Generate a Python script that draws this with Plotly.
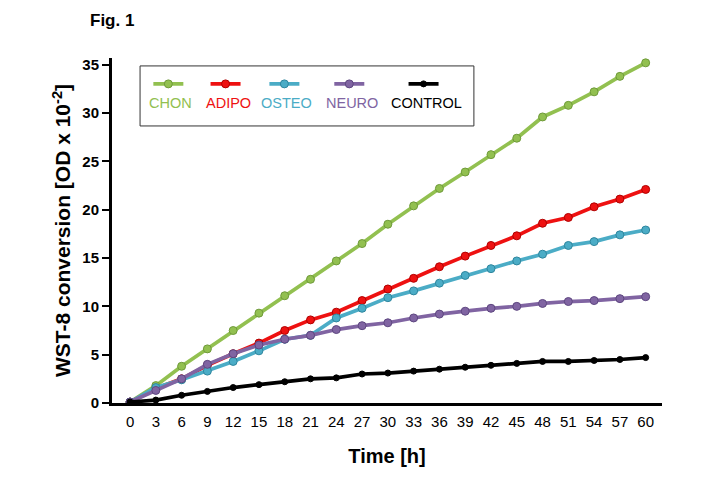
import plotly.graph_objects as go

# time points in hours
time_h = [0, 3, 6, 9, 12, 15, 18, 21, 24, 27, 30, 33, 36, 39, 42, 45, 48, 51, 54, 57, 60]

# WST-8 conversion [OD x 10^-2]
chon = [0.1, 1.8, 3.8, 5.6, 7.5, 9.3, 11.1, 12.8, 14.7, 16.5, 18.5, 20.4, 22.2, 23.9, 25.7,
        27.4, 29.6, 30.8, 32.2, 33.8, 35.2]
adipo = [0.1, 1.5, 2.5, 3.9, 5.1, 6.2, 7.5, 8.6, 9.4, 10.6, 11.8, 12.9, 14.1, 15.2, 16.3,
         17.3, 18.6, 19.2, 20.3, 21.1, 22.1]
osteo = [0.1, 1.6, 2.4, 3.3, 4.3, 5.4, 6.6, 7.0, 8.8, 9.8, 10.9, 11.6, 12.4, 13.2, 13.9,
         14.7, 15.4, 16.3, 16.7, 17.4, 17.9]
neuro = [0.1, 1.3, 2.5, 4.0, 5.1, 6.0, 6.6, 7.0, 7.6, 8.0, 8.3, 8.8, 9.2, 9.5, 9.8,
         10.0, 10.3, 10.5, 10.6, 10.8, 11.0]
control = [0.1, 0.3, 0.8, 1.2, 1.6, 1.9, 2.2, 2.5, 2.6, 3.0, 3.1, 3.3, 3.5, 3.7, 3.9,
           4.1, 4.3, 4.3, 4.4, 4.5, 4.7]

labels = ["CHON", "ADIPO", "OSTEO", "NEURO", "CONTROL"]
values = [chon, adipo, osteo, neuro, control]
colors = ["#92c050", "#ee1111", "#4bacc6", "#8064a2", "#000000"]
edges = ["#6f9a3a", "#b00000", "#2f869e", "#5e4780", "#000000"]
msizes = [8, 8, 8, 8, 6]

# legend layout: symbol above label (paper coords)
leg_x = [0.107, 0.211, 0.318, 0.436, 0.571]
sym_y = 0.925
lab_y = 0.870

fig = go.Figure()
for i, (name, vals) in enumerate(zip(labels, values)):
    legname = "legend" if i == 0 else f"legend{i + 1}"
    fig.add_scatter(
        x=time_h, y=vals, mode="lines+markers", name="",
        hovertemplate=name + ": %{y}<extra></extra>",
        line=dict(color=colors[i], width=3.7),
        marker=dict(color=colors[i], size=msizes[i], line=dict(color=edges[i], width=1)),
        legend=legname, showlegend=True,
    )
    fig.update_layout({legname: dict(
        x=leg_x[i], y=sym_y, xanchor="center", yanchor="middle",
        bgcolor="rgba(0,0,0,0)", borderwidth=0, itemwidth=30,
        font=dict(size=6), tracegroupgap=0,
    )})
    fig.add_annotation(
        text=name, xref="paper", yref="paper", x=leg_x[i], y=lab_y,
        xanchor="center", yanchor="middle", showarrow=False,
        font=dict(size=14.5, color=colors[i]),
    )

# legend frame
fig.add_shape(type="rect", xref="paper", yref="paper", x0=0.051, x1=0.658, y0=0.803, y1=0.977,
              line=dict(color="#333333", width=1))

fig.update_layout(
    width=712, height=472,
    margin=dict(l=104, r=58, t=50, b=77),
    paper_bgcolor="white", plot_bgcolor="white",
    font=dict(family="Liberation Sans, Arial", color="black"),
    showlegend=True,
)

fig.update_xaxes(
    range=[-2.1, 61.9], tickvals=time_h, ticks="", ticklabelstandoff=3,
    showline=True, linecolor="black", linewidth=3, showgrid=False, zeroline=False,
    tickfont=dict(size=15), tickprefix="<b>", ticksuffix="</b>",
    title=dict(text="<b>Time [h]</b>", font=dict(size=20), standoff=20),
)
fig.update_yaxes(
    range=[0, 35.7], dtick=5, ticks="outside", ticklen=7, tickwidth=2, tickcolor="black",
    showline=True, linecolor="black", linewidth=3, showgrid=False, zeroline=False,
    tickfont=dict(size=15), tickprefix="<b>", ticksuffix="</b>",
    title=dict(text="<b>WST-8 conversion [OD x 10<sup>-2</sup>]</b>", font=dict(size=21), standoff=6),
)

fig.add_annotation(
    text="<b>Fig. 1</b>", xref="paper", yref="paper", x=-0.044, y=1.142,
    xanchor="left", yanchor="top", showarrow=False, font=dict(size=17),
)

fig.write_html("out.html")
